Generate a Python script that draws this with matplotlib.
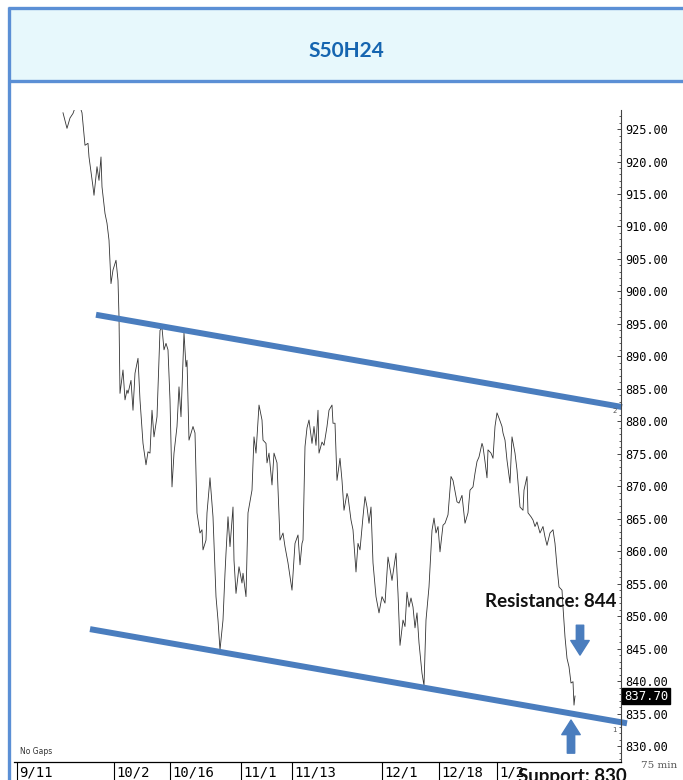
import matplotlib
matplotlib.use("Agg")
import matplotlib.pyplot as plt
from matplotlib.transforms import blended_transform_factory, offset_copy
from matplotlib.lines import Line2D
from matplotlib.patches import Rectangle
from matplotlib.ticker import MultipleLocator, FormatStrFormatter

# 75 min bars, no gaps (bar number counted from 9/11)
bars = [46, 50, 53, 56, 59, 62, 65, 68, 71, 72, 76, 77, 80, 82, 84, 85, 88, 90, 92, 94,
        96, 99, 101, 102, 103, 106, 108, 110, 111, 114, 116, 118, 121, 123, 126, 129, 131, 133, 135, 137,
        140, 143, 145, 147, 149, 151, 153, 155, 157, 160, 162, 164, 167, 169, 170, 172, 176, 178, 180, 183,
        185, 186, 189, 190, 193, 196, 199, 201, 203, 206, 208, 209, 211, 213, 216, 217, 219, 222, 225, 226,
        229, 231, 235, 237, 239, 242, 245, 246, 249, 250, 252, 255, 257, 260, 263, 266, 268, 271, 275, 278,
        281, 283, 285, 286, 288, 290, 292, 295, 297, 299, 301, 302, 305, 307, 310, 312, 315, 316, 318, 320,
        323, 325, 327, 330, 331, 334, 336, 339, 341, 343, 346, 348, 350, 352, 354, 356, 359, 362, 365, 368,
        371, 375, 379, 381, 383, 386, 388, 390, 392, 394, 396, 398, 400, 402, 405, 407, 409, 412, 415, 417,
        419, 421, 423, 426, 428, 431, 434, 436, 440, 442, 445, 448, 451, 453, 456, 458, 460, 462, 465, 466,
        468, 470, 471, 474, 476, 478, 480, 482, 485, 486, 488, 490, 493, 495, 498, 500, 503, 506, 507, 510,
        511, 514, 516, 518, 520, 523, 526, 528, 530, 533, 536, 538, 540, 542, 545, 546, 548, 550, 552, 554,
        556, 557, 558]
prices = [927.5, 925.1, 926.7, 927.4, 928.7, 928.9, 927.5, 922.5, 922.8, 920.7, 916.1, 914.8, 919.2, 917.1, 920.7, 916.1, 912.0, 910.5, 907.9, 901.2,
          903.3, 904.8, 901.7, 896.1, 884.3, 887.9, 883.3, 884.8, 884.3, 886.3, 881.7, 887.4, 889.7, 883.3, 876.6, 873.3, 875.3, 875.1, 881.7, 877.6,
          880.7, 894.0, 894.4, 891.0, 892.0, 891.0, 883.3, 869.9, 875.1, 879.2, 885.3, 880.7, 893.6, 888.4, 889.4, 877.1, 879.2, 878.2, 865.9, 862.8,
          863.3, 860.2, 861.7, 865.9, 871.3, 865.3, 853.0, 849.4, 844.8, 849.4, 856.6, 859.7, 865.3, 860.7, 866.8, 858.6, 853.5, 857.6, 855.1, 856.6,
          853.0, 865.9, 869.4, 877.6, 875.1, 882.5, 880.2, 877.1, 876.6, 873.6, 875.1, 870.2, 875.1, 873.6, 861.7, 862.8, 860.7, 858.2, 854.0, 861.2,
          862.5, 857.9, 861.2, 861.7, 876.1, 879.0, 880.2, 876.6, 879.2, 876.3, 881.7, 875.1, 876.8, 876.3, 879.2, 881.7, 882.5, 879.7, 879.7, 870.9,
          874.3, 870.9, 866.3, 868.9, 868.4, 864.8, 863.3, 856.8, 861.2, 860.2, 865.3, 868.4, 866.8, 864.3, 866.8, 858.2, 853.0, 850.5, 853.0, 852.0,
          859.1, 855.5, 859.7, 853.5, 845.5, 849.4, 848.4, 853.7, 851.4, 852.8, 851.4, 848.2, 850.5, 845.9, 841.2, 839.3, 849.4, 854.5, 863.2, 865.1,
          862.8, 863.8, 859.9, 864.0, 864.3, 865.6, 871.5, 870.9, 867.6, 867.4, 868.6, 864.3, 865.9, 869.4, 869.9, 872.0, 873.8, 874.5, 876.6, 876.1,
          873.8, 871.3, 875.6, 875.1, 874.3, 879.2, 881.3, 880.5, 879.2, 878.2, 877.1, 874.0, 870.5, 877.6, 875.1, 872.5, 866.8, 866.3, 869.4, 871.5,
          865.9, 865.3, 864.8, 863.8, 864.5, 862.8, 863.8, 862.2, 860.9, 862.8, 863.3, 861.2, 857.6, 854.5, 854.0, 851.4, 846.8, 843.5, 842.2, 839.7,
          839.9, 836.3, 837.7]

date_labels = ['9/11', '10/2', '10/16', '11/1', '11/13', '12/1', '12/18', '1/2']
date_bars = [0, 97, 153, 224, 275, 365, 422, 480]

# channel lines (bar, price)
upper_bars = [79, 605]
upper_prices = [896.4, 882.2]
lower_bars = [73, 610]
lower_prices = [848.0, 833.5]

last_price = 837.70
resistance = 844
support = 830

BLUE = '#4A7DBE'
BORDER = '#5B8FD5'

fig = plt.figure(figsize=(6.83, 7.80), dpi=100)

# title band + frame
fig.patches.append(Rectangle((9/683, 1-81/780), 1, 73/780, transform=fig.transFigure,
                             facecolor='#E7F8FC', edgecolor='none', zorder=0))
for xs, ys in [([8/683, 1], [1-7.5/780]*2), ([8/683, 1], [1-81/780]*2), ([9/683]*2, [0, 1-7/780])]:
    fig.lines.append(Line2D(xs, ys, transform=fig.transFigure, color=BORDER, lw=2.4,
                            solid_capstyle='butt'))
fig.text(346/683, 1-51/780, 'S50H24', ha='center', va='center', fontsize=15,
         fontweight='bold', color='#1565B0', family='Lato')

ax = fig.add_axes([14/683, 1-762/780, (621-14)/683, (762-110)/780])
ax.plot(bars, prices, color='#333333', lw=0.6)
ax.plot(upper_bars, upper_prices, color=BLUE, lw=4.3, solid_capstyle='butt', clip_on=False)
ax.plot(lower_bars, lower_prices, color=BLUE, lw=4.3, solid_capstyle='butt', clip_on=False)

ax.set_xlim(-3, 604)
ax.set_ylim(827.54, 927.93)

for s in ['top', 'left']:
    ax.spines[s].set_visible(False)
ax.spines['bottom'].set_linewidth(0.9)
ax.spines['right'].set_linewidth(0.8)
ax.spines['right'].set_color('#444444')

ax.yaxis.tick_right()
ax.yaxis.set_major_locator(MultipleLocator(5))
ax.yaxis.set_minor_locator(MultipleLocator(1))
ax.yaxis.set_major_formatter(FormatStrFormatter('%.2f'))
ax.tick_params(axis='y', which='major', direction='in', length=3, width=0.7, pad=3,
               labelsize=8.6, colors='#444444', labelcolor='black')
ax.tick_params(axis='y', which='minor', direction='in', length=1.5, width=0.6, colors='#444444')
for lab in ax.get_yticklabels():
    lab.set_family('DejaVu Sans Mono')

ax.set_xticks(date_bars)
ax.set_xticklabels([])
ax.tick_params(axis='x', direction='out', length=14, width=0.8, color='black')
tr = offset_copy(blended_transform_factory(ax.transData, ax.transAxes), fig=fig, x=2, y=-10, units='dots')
for b, lab in zip(date_bars, date_labels):
    ax.text(b, 0, lab, transform=tr, ha='left', va='center', fontsize=10,
            family='DejaVu Sans Mono', clip_on=False)

# last price box
ty = blended_transform_factory(ax.transAxes, ax.transData)
ax.text(1.005, last_price, '%.2f' % last_price, transform=ty, ha='left', va='center',
        fontsize=8.8, family='DejaVu Sans Mono', color='white',
        bbox=dict(boxstyle='square,pad=0.15', facecolor='black', edgecolor='black'))
ax.text(0.993, 882.0, '2', transform=ty, ha='right', va='top', fontsize=5, color='#555555')
ax.text(0.993, 833.0, '1', transform=ty, ha='right', va='top', fontsize=5, color='#555555')

# annotations
ax.text(534, 852.2, 'Resistance: %d' % resistance, ha='center', va='center', fontsize=13.5,
        fontweight='bold', family='Lato', color='#111111')
ax.text(555, 825.3, 'Support: %d' % support, ha='center', va='center', fontsize=13.5,
        fontweight='bold', family='Lato', color='#111111', clip_on=False)
arrow = dict(arrowstyle='simple,head_length=0.75,head_width=0.95,tail_width=0.38',
             color=BLUE, shrinkA=0, shrinkB=0, mutation_scale=14)
ax.annotate('', xy=(563, 844.0), xytext=(563, 848.6), arrowprops=arrow)
ax.annotate('', xy=(554, 834.0), xytext=(554, 828.9), arrowprops=arrow, annotation_clip=False)

ax.text(0.01, 0.012, 'No Gaps', transform=ax.transAxes, fontsize=5.5, color='#333333')
fig.text(641/683, 1-766/780, '75 min', ha='left', va='center', fontsize=7.5,
         family='DejaVu Serif', color='#555555')

fig.savefig('out.png', dpi=100)
